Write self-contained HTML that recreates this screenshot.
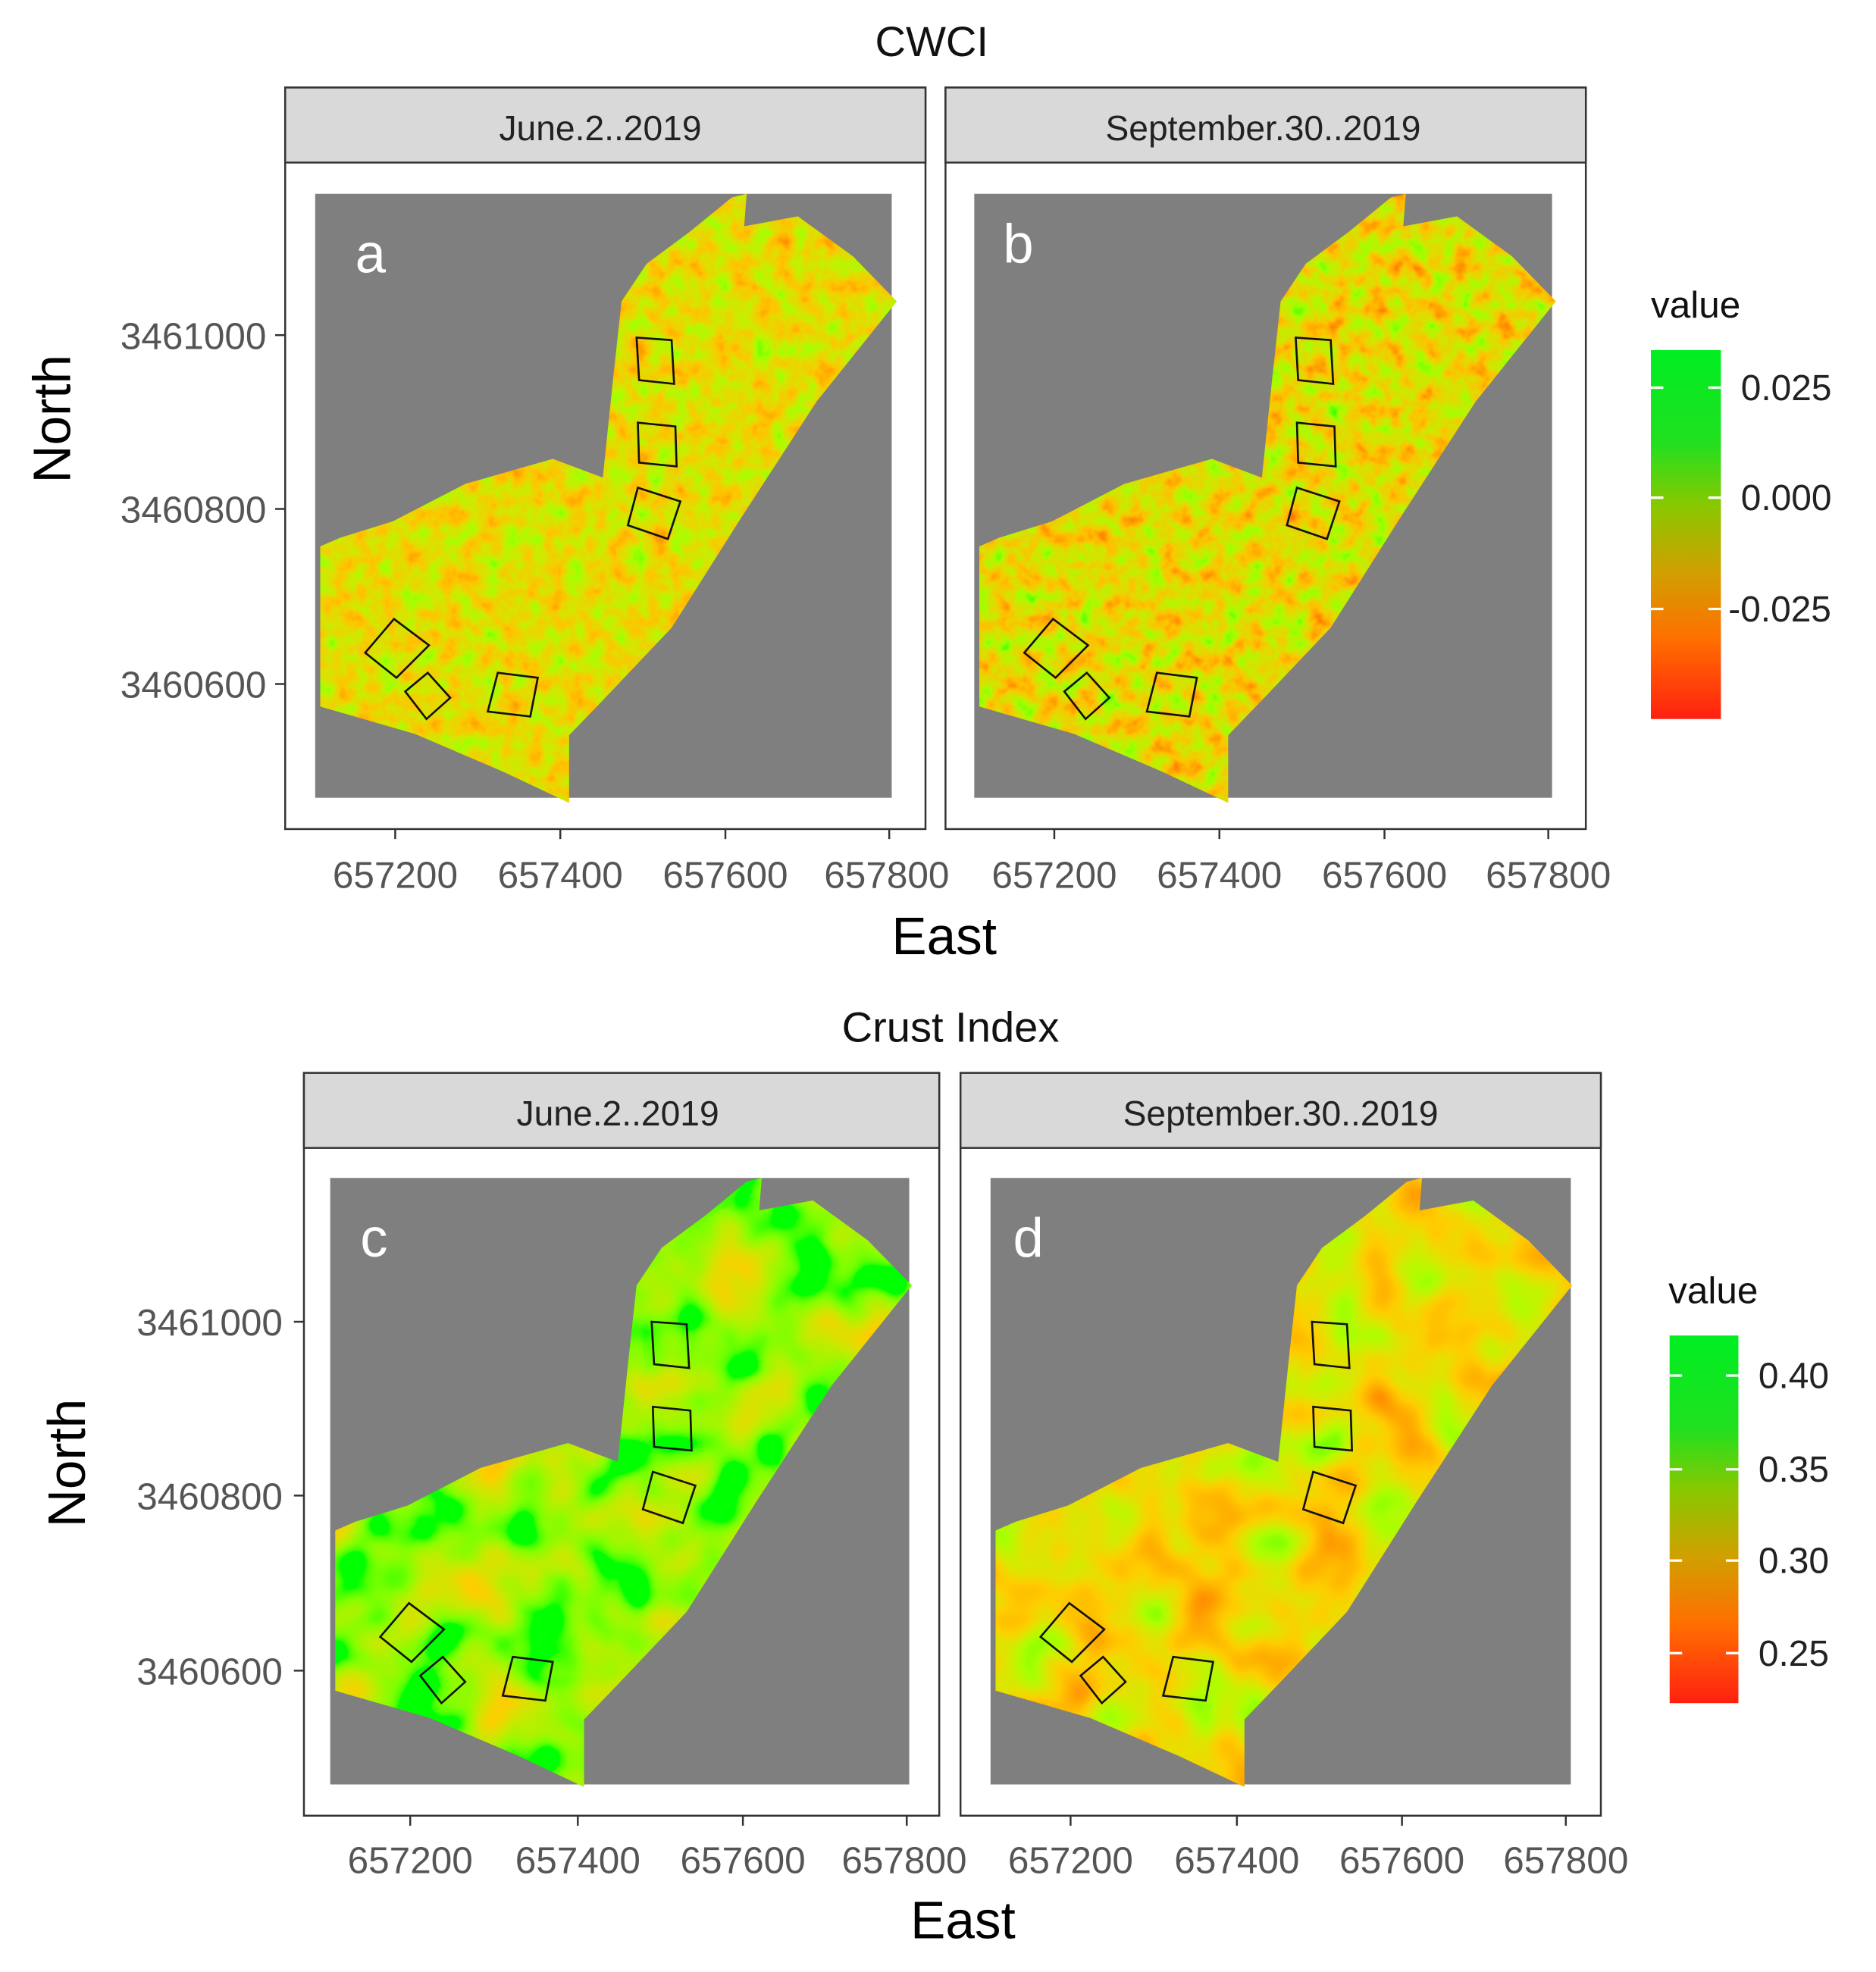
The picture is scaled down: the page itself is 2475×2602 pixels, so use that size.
<!DOCTYPE html>
<html><head><meta charset="utf-8"><style>html,body{margin:0;padding:0;background:#fff}svg{display:block}</style></head>
<body>
<svg xmlns="http://www.w3.org/2000/svg" width="2475" height="2602" viewBox="0 0 1500 1577" font-family="Liberation Sans, sans-serif">
<defs>
<clipPath id="field"><path d="M4,282 L20,275 L62,262 L120,232 L190,212 L230,227 L238,150 L245,86 L265,56 L300,30 L333,3 L345,0 L343,26 L386,18 L430,50 L465,86 L401,166 L340,260 L285,347 L230,405 L203,433 L203,487 L150,462 L80,432 L4,410 Z"/></clipPath>
<filter id="nA" x="0" y="0" width="100%" height="100%"><feTurbulence type="fractalNoise" baseFrequency="0.06" numOctaves="3" seed="3"/><feColorMatrix type="matrix" values="-1.4 0 0 0 1.45  1.0 0 0 0 0.22  0 0 0 0 0  0 0 0 0 1"/></filter>
<filter id="nB" x="0" y="0" width="100%" height="100%"><feTurbulence type="fractalNoise" baseFrequency="0.06" numOctaves="3" seed="7"/><feColorMatrix type="matrix" values="-1.8 0 0 0 1.65  1.3 0 0 0 0.05  0 0 0 0 0  0 0 0 0 1"/></filter>
<filter id="nC" x="0" y="0" width="100%" height="100%"><feTurbulence type="fractalNoise" baseFrequency="0.02" numOctaves="2" seed="11"/><feColorMatrix type="matrix" values="-2.0 0 0 0 1.3  1.0 0 0 0 0.45  0 0 0 0 0  0 0 0 0 1"/></filter>
<filter id="nD" x="0" y="0" width="100%" height="100%"><feTurbulence type="fractalNoise" baseFrequency="0.02" numOctaves="2" seed="5"/><feColorMatrix type="matrix" values="-2.0 0 0 0 1.85  1.3 0 0 0 0.05  0 0 0 0 0  0 0 0 0 1"/></filter>
<linearGradient id="cb" x1="0" y1="0" x2="0" y2="1"><stop offset="0" stop-color="#00ee22"/><stop offset="0.25" stop-color="#20e020"/><stop offset="0.42" stop-color="#88c800"/><stop offset="0.6" stop-color="#d0a000"/><stop offset="0.78" stop-color="#ff7000"/><stop offset="1" stop-color="#ff2010"/></linearGradient>
<g id="plots" fill="none" stroke="#111" stroke-width="1.6">
<polygon points="257,115 285,117 287,152 259,149"/>
<polygon points="258,183 288,186 289,218 259,215"/>
<polygon points="258,235 292,246 282,276 250,265"/>
<polygon points="40,367 63,340 91,361 65,387"/>
<polygon points="72,398 90,383 108,403 89,420"/>
<polygon points="146,383 178,387 172,418 138,414"/>
</g>
</defs>

<text x="745" y="45" font-size="34" text-anchor="middle" fill="#111">CWCI</text>
<text x="760" y="833" font-size="34" text-anchor="middle" fill="#111">Crust Index</text>

<g>
<rect x="228" y="70" width="512" height="593" fill="#fff" stroke="#333" stroke-width="1.5"/>
<rect x="228" y="70" width="512" height="60" fill="#d9d9d9" stroke="#333" stroke-width="1.5"/>
<text x="480" y="112" font-size="28" text-anchor="middle" fill="#222">June.2..2019</text>
<rect x="252" y="155" width="461" height="483" fill="#7f7f7f"/>
<g transform="translate(252,155)"><g clip-path="url(#field)"><rect width="470" height="490" fill="#b0b000"/><rect width="470" height="490" filter="url(#nA)"/></g><use href="#plots"/></g>
<text x="284" y="218" font-size="44" fill="#fff">a</text>
</g>
<g>
<rect x="756" y="70" width="512" height="593" fill="#fff" stroke="#333" stroke-width="1.5"/>
<rect x="756" y="70" width="512" height="60" fill="#d9d9d9" stroke="#333" stroke-width="1.5"/>
<text x="1010" y="112" font-size="28" text-anchor="middle" fill="#222">September.30..2019</text>
<rect x="779" y="155" width="462" height="483" fill="#7f7f7f"/>
<g transform="translate(779,155)"><g clip-path="url(#field)"><rect width="470" height="490" fill="#c0a000"/><rect width="470" height="490" filter="url(#nB)"/></g><use href="#plots"/></g>
<text x="802" y="210" font-size="44" fill="#fff">b</text>
</g>
<g>
<rect x="243" y="858" width="508" height="594" fill="#fff" stroke="#333" stroke-width="1.5"/>
<rect x="243" y="858" width="508" height="60" fill="#d9d9d9" stroke="#333" stroke-width="1.5"/>
<text x="494" y="900" font-size="28" text-anchor="middle" fill="#222">June.2..2019</text>
<rect x="264" y="942" width="463" height="485" fill="#7f7f7f"/>
<g transform="translate(264,942)"><g clip-path="url(#field)"><rect width="470" height="490" fill="#80d000"/><rect width="470" height="490" filter="url(#nC)"/></g><use href="#plots"/></g>
<text x="288" y="1005" font-size="44" fill="#fff">c</text>
</g>
<g>
<rect x="768" y="858" width="512" height="594" fill="#fff" stroke="#333" stroke-width="1.5"/>
<rect x="768" y="858" width="512" height="60" fill="#d9d9d9" stroke="#333" stroke-width="1.5"/>
<text x="1024" y="900" font-size="28" text-anchor="middle" fill="#222">September.30..2019</text>
<rect x="792" y="942" width="464" height="485" fill="#7f7f7f"/>
<g transform="translate(792,942)"><g clip-path="url(#field)"><rect width="470" height="490" fill="#c0a000"/><rect width="470" height="490" filter="url(#nD)"/></g><use href="#plots"/></g>
<text x="810" y="1005" font-size="44" fill="#fff">d</text>
</g>

<g font-size="30" fill="#555" text-anchor="middle">
<text x="316" y="710">657200</text><text x="448" y="710">657400</text><text x="580" y="710">657600</text><text x="709" y="710">657800</text>
<text x="843" y="710">657200</text><text x="975" y="710">657400</text><text x="1107" y="710">657600</text><text x="1238" y="710">657800</text>
<text x="328" y="1498">657200</text><text x="462" y="1498">657400</text><text x="594" y="1498">657600</text><text x="723" y="1498">657800</text>
<text x="856" y="1498">657200</text><text x="989" y="1498">657400</text><text x="1121" y="1498">657600</text><text x="1252" y="1498">657800</text>
</g>
<g font-size="30" fill="#555" text-anchor="end">
<text x="213" y="279">3461000</text><text x="213" y="418">3460800</text><text x="213" y="558">3460600</text>
<text x="226" y="1068">3461000</text><text x="226" y="1207">3460800</text><text x="226" y="1347">3460600</text>
</g>
<g stroke="#333" stroke-width="1.5">
<line x1="220" y1="268" x2="228" y2="268"/><line x1="220" y1="407" x2="228" y2="407"/><line x1="220" y1="547" x2="228" y2="547"/>
<line x1="235" y1="1057" x2="243" y2="1057"/><line x1="235" y1="1196" x2="243" y2="1196"/><line x1="235" y1="1336" x2="243" y2="1336"/>
<line x1="316" y1="663" x2="316" y2="671"/><line x1="448" y1="663" x2="448" y2="671"/><line x1="580" y1="663" x2="580" y2="671"/><line x1="711" y1="663" x2="711" y2="671"/>
<line x1="843" y1="663" x2="843" y2="671"/><line x1="975" y1="663" x2="975" y2="671"/><line x1="1107" y1="663" x2="1107" y2="671"/><line x1="1238" y1="663" x2="1238" y2="671"/>
<line x1="328" y1="1452" x2="328" y2="1460"/><line x1="462" y1="1452" x2="462" y2="1460"/><line x1="594" y1="1452" x2="594" y2="1460"/><line x1="725" y1="1452" x2="725" y2="1460"/>
<line x1="856" y1="1452" x2="856" y2="1460"/><line x1="989" y1="1452" x2="989" y2="1460"/><line x1="1121" y1="1452" x2="1121" y2="1460"/><line x1="1252" y1="1452" x2="1252" y2="1460"/>
</g>

<text x="755" y="763" font-size="42" text-anchor="middle" fill="#000">East</text>
<text x="770" y="1550" font-size="42" text-anchor="middle" fill="#000">East</text>
<text transform="translate(56,335) rotate(-90)" font-size="42" text-anchor="middle" fill="#000">North</text>
<text transform="translate(68,1170) rotate(-90)" font-size="42" text-anchor="middle" fill="#000">North</text>

<text x="1320" y="254" font-size="30" fill="#111">value</text>
<rect x="1320" y="280" width="56" height="295" fill="url(#cb)"/>
<g stroke="#fff" stroke-width="2"><line x1="1320" y1="310" x2="1330" y2="310"/><line x1="1366" y1="310" x2="1376" y2="310"/><line x1="1320" y1="398" x2="1330" y2="398"/><line x1="1366" y1="398" x2="1376" y2="398"/><line x1="1320" y1="487" x2="1330" y2="487"/><line x1="1366" y1="487" x2="1376" y2="487"/></g>
<g font-size="29" fill="#222"><text x="1392" y="320">0.025</text><text x="1392" y="408">0.000</text><text x="1382" y="497">-0.025</text></g>

<text x="1334" y="1042" font-size="30" fill="#111">value</text>
<rect x="1335" y="1068" width="55" height="294" fill="url(#cb)"/>
<g stroke="#fff" stroke-width="2"><line x1="1335" y1="1100" x2="1345" y2="1100"/><line x1="1380" y1="1100" x2="1390" y2="1100"/><line x1="1335" y1="1175" x2="1345" y2="1175"/><line x1="1380" y1="1175" x2="1390" y2="1175"/><line x1="1335" y1="1248" x2="1345" y2="1248"/><line x1="1380" y1="1248" x2="1390" y2="1248"/><line x1="1335" y1="1322" x2="1345" y2="1322"/><line x1="1380" y1="1322" x2="1390" y2="1322"/></g>
<g font-size="29" fill="#222"><text x="1406" y="1110">0.40</text><text x="1406" y="1185">0.35</text><text x="1406" y="1258">0.30</text><text x="1406" y="1332">0.25</text></g>
</svg>
</body></html>
